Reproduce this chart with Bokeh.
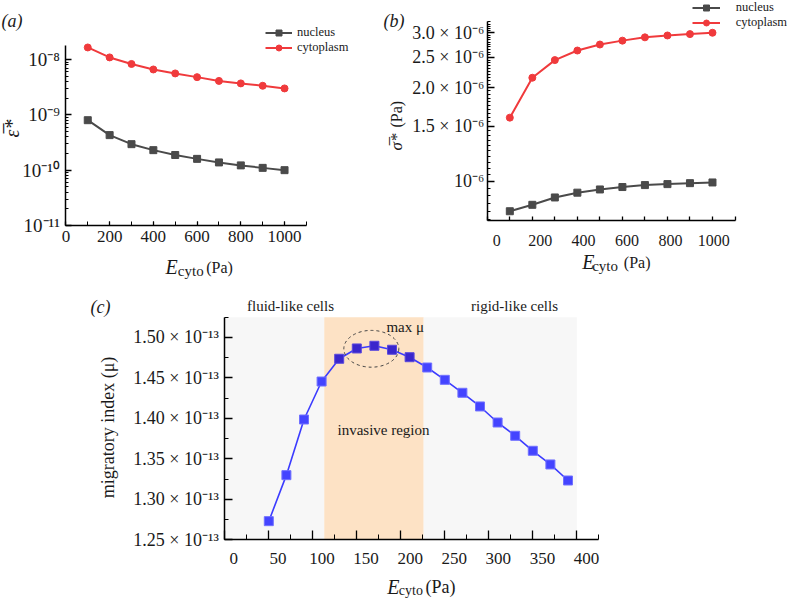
import numpy as np
from bokeh.plotting import figure
from bokeh.models import (Range1d, LinearAxis, LogAxis, LogScale, FixedTicker, SingleIntervalTicker,
                          CustomJSTickFormatter, Legend, LegendItem, Label, BoxAnnotation)
from bokeh.embed import file_html
from bokeh.resources import INLINE

SERIF = "Liberation Serif"

# ---------------- data ----------------
SERIES_LABELS = ["nucleus", "cytoplasm"]

# panel (a): mean strain vs E_cyto
A_E = [100, 200, 300, 400, 500, 600, 700, 800, 900, 1000]
A_NUC = [8.0e-10, 4.3e-10, 2.95e-10, 2.3e-10, 1.88e-10, 1.6e-10, 1.38e-10, 1.22e-10, 1.1e-10, 1.0e-10]
A_CYT = [1.65e-8, 1.09e-8, 8.3e-9, 6.6e-9, 5.6e-9, 4.8e-9, 4.1e-9, 3.7e-9, 3.35e-9, 3.0e-9]
A_YTICKS = [1e-11, 1e-10, 1e-9, 1e-8]
A_XLIM = (0, 1100)
A_YLIM = (1e-11, 1.79e-8)

# panel (b): mean stress vs E_cyto
B_E = [100, 200, 300, 400, 500, 600, 700, 800, 900, 1000]
B_NUC = [8.0e-7, 8.39e-7, 8.86e-7, 9.18e-7, 9.40e-7, 9.57e-7, 9.71e-7, 9.78e-7, 9.85e-7, 9.90e-7]
B_CYT = [1.60e-6, 2.15e-6, 2.45e-6, 2.63e-6, 2.75e-6, 2.83e-6, 2.90e-6, 2.94e-6, 2.97e-6, 3.00e-6]
B_YTICKS = [1.0e-6, 1.5e-6, 2.0e-6, 2.5e-6, 3.0e-6]
B_XLIM = (0, 1100)
B_XLABELS = (0, 1000)
B_YLIM = (7.47e-7, 3.268e-6)

# panel (c): migratory index vs E_cyto
C_E = [50, 70, 90, 110, 130, 150, 170, 190, 210, 230, 250, 270, 290, 310, 330, 350, 370, 390]
C_MU = [1.2730e-13, 1.3298e-13, 1.3985e-13, 1.4454e-13, 1.4735e-13, 1.4862e-13, 1.4895e-13,
        1.4846e-13, 1.4754e-13, 1.4627e-13, 1.4475e-13, 1.4315e-13, 1.4146e-13, 1.3948e-13,
        1.3784e-13, 1.3599e-13, 1.3430e-13, 1.3232e-13]
C_YTICKS = [1.25e-13, 1.30e-13, 1.35e-13, 1.40e-13, 1.45e-13, 1.50e-13]
C_YMINOR = [1.275e-13, 1.325e-13, 1.375e-13, 1.425e-13, 1.475e-13, 1.525e-13]
C_XLIM = (0, 425)
C_XLABELS = (0, 400)
C_YLIM = (1.25e-13, 1.5248e-13)
C_REGION_EDGES = [0, 113, 226, 400]
C_REGION_NAMES = ["fluid-like cells", "invasive region", "rigid-like cells"]
C_MAX_TEXT = "max μ"
# dashed blob around the maximum (centre x, centre y, width, height)
C_BLOB = (166.5, 1.4858e-13, 62.5, 0.0454e-13)

# ---------------- styles ----------------
NUC_COLOR = "#4a4a4a"
CYT_COLOR = "#f03a3c"
BAND_COLORS = ["#f7f7f7", "#fde2c5", "#f7f7f7"]
MU_LINE = "#3b3bff"
MU_FILL_OUT = "#4444ff"
MU_FILL_IN = "#3a26cc"
TXT = "#1a1a1a"

W, H = 787, 599


# ---- pixel geometry of each panel's frame -> ranges over the whole canvas ----
def lin_x(d0, d1, p0, p1):
    k = (p1 - p0) / (d1 - d0)
    return Range1d(d0 - p0 / k, d0 + (W - p0) / k)


def lin_y(d0, d1, p0, p1):
    k = (p0 - p1) / (d1 - d0)
    return Range1d(d0 - (H - p0) / k, d1 + p1 / k)


def log_y(d0, d1, p0, p1):
    l0, l1 = np.log10(d0), np.log10(d1)
    k = (p0 - p1) / (l1 - l0)
    return Range1d(10 ** (l0 - (H - p0) / k), 10 ** (l1 + p1 / k))


p = figure(width=W, height=H, title=None, x_range=Range1d(0, W), y_range=Range1d(H, 0),
           x_axis_location=None, y_axis_location=None, output_backend="svg",
           toolbar_location=None, min_border=0)
p.outline_line_color = None
p.grid.visible = False

p.extra_x_ranges = {
    "ax": lin_x(A_XLIM[0], A_XLIM[1], 65.4, 305.9),
    "bx": lin_x(B_XLIM[0], B_XLIM[1], 486.8, 734.5),
    "bxl": lin_x(B_XLABELS[0], B_XLABELS[1], 496.3, 713.3),
    "cx": lin_x(C_XLIM[0], C_XLIM[1], 224.3, 598.3),
    "cxl": lin_x(C_XLABELS[0], C_XLABELS[1], 233.3, 586.0),
}
p.extra_y_ranges = {
    "ay": log_y(A_YLIM[0], A_YLIM[1], 225.0, 45.0),
    "by": log_y(B_YLIM[0], B_YLIM[1], 220.0, 20.7),
    "cy": lin_y(C_YLIM[0], C_YLIM[1], 539.3, 316.7),
}
p.extra_y_scales = {"ay": LogScale(), "by": LogScale()}


def sci_formatter(digits):
    code = """
    const sup = {"-":"\u207b","0":"\u2070","1":"\u00b9","2":"\u00b2","3":"\u00b3","4":"\u2074",
                 "5":"\u2075","6":"\u2076","7":"\u2077","8":"\u2078","9":"\u2079"};
    const e = Math.floor(Math.log10(tick) + 1e-9);
    const m = tick / Math.pow(10, e);
    const s = "10" + String(e).split("").map(c => sup[c]).join("");
    if (Math.abs(m - 1) < 1e-6) { return s; }
    return m.toFixed(DIG) + " \u00d7 " + s;
    """.replace("DIG", str(digits))
    return CustomJSTickFormatter(code=code)


def style_axis(ax, size, tin, tmin, standoff):
    ax.axis_line_color = "black"
    ax.axis_line_width = 1.5
    ax.major_tick_line_color = "black"
    ax.minor_tick_line_color = "black"
    ax.major_tick_line_width = 1.3
    ax.minor_tick_line_width = 1
    ax.major_tick_in = tin
    ax.major_tick_out = 0
    ax.minor_tick_in = tmin
    ax.minor_tick_out = 0
    ax.major_label_text_font = SERIF
    ax.major_label_text_font_size = size
    ax.major_label_text_color = TXT
    ax.major_label_standoff = standoff


def x_axis(xr, yr, loc, bounds, ticker, size, tin, tmin, standoff, labels=True):
    ax = LinearAxis(x_range_name=xr, y_range_name=yr, fixed_location=loc, bounds=bounds,
                    ticker=ticker)
    style_axis(ax, size, tin, tmin, standoff)
    if not labels:
        ax.formatter = CustomJSTickFormatter(code="return '';")
        ax.major_label_text_font_size = "1px"
    p.add_layout(ax, "below")


def label_only_axis(xr, yr, loc, bounds, interval, size, standoff):
    ax = LinearAxis(x_range_name=xr, y_range_name=yr, fixed_location=loc, bounds=bounds,
                    ticker=SingleIntervalTicker(interval=interval, num_minor_ticks=0))
    ax.axis_line_color = None
    ax.major_tick_line_color = None
    ax.minor_tick_line_color = None
    ax.major_label_text_font = SERIF
    ax.major_label_text_font_size = size
    ax.major_label_text_color = TXT
    ax.major_label_standoff = standoff
    p.add_layout(ax, "below")


def y_axis(kind, xr, yr, loc, bounds, ticker, formatter, size, tin, tmin, standoff):
    ax = kind(x_range_name=xr, y_range_name=yr, fixed_location=loc, bounds=bounds,
              ticker=ticker, formatter=formatter)
    style_axis(ax, size, tin, tmin, standoff)
    p.add_layout(ax, "left")


def add_text(x, y, text, size, style="normal", angle=0.0, align="left", baseline="alphabetic"):
    p.add_layout(Label(x=x, y=y, text=text, text_font=SERIF, text_font_size=size,
                       text_font_style=style, angle=angle, text_align=align,
                       text_baseline=baseline, text_color=TXT))


def add_ecyto_title(xs, y, sizes):
    add_text(xs[0], y, "E", sizes[0], style="italic")
    add_text(xs[1], y + 4, "cyto", sizes[1])
    add_text(xs[2], y, "(Pa)", sizes[2])


def make_legend(renderers, loc, glyph_w, standoff, item_h):
    items = [LegendItem(label=lab, renderers=r) for lab, r in zip(SERIES_LABELS, renderers)]
    leg = Legend(items=items, location=loc, orientation="vertical", padding=0, margin=0,
                 spacing=0, glyph_width=glyph_w, glyph_height=item_h, label_height=item_h,
                 label_standoff=standoff, label_text_font=SERIF, label_text_font_size="12.5px",
                 label_text_color=TXT, border_line_color=None, background_fill_alpha=0)
    p.add_layout(leg)


# ---------------- panel (a) ----------------
x_axis("ax", "ay", A_YLIM[0], A_XLIM, SingleIntervalTicker(interval=200, num_minor_ticks=2),
       "17px", 4, 4, 5)
a_minor = [m * t for t in A_YTICKS for m in range(2, 10) if m * t <= A_YLIM[1]]
y_axis(LogAxis, "ax", "ay", A_XLIM[0], A_YLIM,
       FixedTicker(ticks=A_YTICKS, minor_ticks=a_minor),
       sci_formatter(0), "19px", 6, 3, 6)

kw = dict(x_range_name="ax", y_range_name="ay")
a_nl = p.line(A_E, A_NUC, line_color=NUC_COLOR, line_width=2, **kw)
a_ns = p.scatter(A_E, A_NUC, marker="square", size=7, fill_color=NUC_COLOR, line_color=NUC_COLOR, **kw)
a_cl = p.line(A_E, A_CYT, line_color=CYT_COLOR, line_width=2, **kw)
a_cs = p.scatter(A_E, A_CYT, marker="circle", size=7, fill_color=CYT_COLOR, line_color=CYT_COLOR, **kw)
make_legend([[a_nl, a_ns], [a_cl, a_cs]], (265, H - 54.5), 27, 5, 15)

add_ecyto_title((165, 177.3, 205.7), 266.7, ("20px", "15px", "16px"))
add_text(11, 128, "\u03b5\u0305*", "20px", style="italic", angle=np.pi / 2,
         align="center", baseline="middle")
add_text(1, 20, "(a)", "18px", style="italic", baseline="middle")

# ---------------- panel (b) ----------------
x_axis("bx", "by", B_YLIM[0], B_XLIM, SingleIntervalTicker(interval=100, num_minor_ticks=0),
       "16px", 4, 0, 0, labels=False)
label_only_axis("bxl", "by", B_YLIM[0], B_XLABELS, 200, "16px", 8)
y_axis(LogAxis, "bx", "by", B_XLIM[0], B_YLIM,
       FixedTicker(ticks=B_YTICKS,
                   minor_ticks=[round(v, 2) * 1e-6 for v in np.arange(0.75, 3.30, 0.05)]),
       sci_formatter(1), "18px", 7, 3, 3)

kw = dict(x_range_name="bx", y_range_name="by")
b_nl = p.line(B_E, B_NUC, line_color=NUC_COLOR, line_width=2, **kw)
b_ns = p.scatter(B_E, B_NUC, marker="square", size=7, fill_color=NUC_COLOR, line_color=NUC_COLOR, **kw)
b_cl = p.line(B_E, B_CYT, line_color=CYT_COLOR, line_width=2, **kw)
b_cs = p.scatter(B_E, B_CYT, marker="circle", size=7, fill_color=CYT_COLOR, line_color=CYT_COLOR, **kw)
make_legend([[b_nl, b_ns], [b_cl, b_cs]], (691.7, H - 29.5), 28, 16, 15)

add_ecyto_title((581.7, 591.7, 623.3), 261.7, ("20px", "15px", "16px"))
add_text(396, 150, "\u03c3\u0305*", "17px", style="italic", angle=np.pi / 2,
         align="left", baseline="middle")
add_text(396, 127, "(Pa)", "16px", angle=np.pi / 2, align="left", baseline="middle")
add_text(383, 20, "(b)", "18px", style="italic", baseline="middle")

# ---------------- panel (c) ----------------
x_axis("cx", "cy", C_YLIM[0], C_XLIM, SingleIntervalTicker(interval=50, num_minor_ticks=2),
       "17px", 9, 5, 0, labels=False)
label_only_axis("cxl", "cy", C_YLIM[0], C_XLABELS, 50, "17px", 7)
y_axis(LinearAxis, "cx", "cy", C_XLIM[0], C_YLIM,
       FixedTicker(ticks=C_YTICKS, minor_ticks=C_YMINOR), sci_formatter(2), "18px", 8, 4, 6)

for i in range(3):
    p.add_layout(BoxAnnotation(left=C_REGION_EDGES[i], right=C_REGION_EDGES[i + 1],
                               bottom=C_YLIM[0], top=C_YLIM[1],
                               x_range_name="cx", y_range_name="cy",
                               fill_color=BAND_COLORS[i], fill_alpha=1.0, line_alpha=0,
                               level="underlay"))

kw = dict(x_range_name="cx", y_range_name="cy")
inside = [C_REGION_EDGES[1] <= x <= C_REGION_EDGES[2] for x in C_E]
fills = [MU_FILL_IN if f else MU_FILL_OUT for f in inside]
edges = ["#5a48dd" if f else "#7070ff" for f in inside]
p.line(C_E, C_MU, line_color=MU_LINE, line_width=1.6, **kw)
p.scatter(C_E, C_MU, marker="square", size=9, fill_color=fills, line_color=edges, line_width=1, **kw)
p.ellipse(x=[C_BLOB[0]], y=[C_BLOB[1]], width=C_BLOB[2], height=C_BLOB[3],
          fill_color=None, line_color="#444444", line_dash="3 3", line_width=1, **kw)

add_text(290, 305, C_REGION_NAMES[0], "15px", align="center", baseline="middle")
add_text(383, 429, C_REGION_NAMES[1], "15px", align="center", baseline="middle")
add_text(514, 305, C_REGION_NAMES[2], "15px", align="center", baseline="middle")
add_text(404.7, 326, C_MAX_TEXT, "15px", align="center", baseline="middle")

add_ecyto_title((386.7, 398.3, 425), 586.0, ("20px", "14px", "18px"))
add_text(107, 427, "migratory index (\u03bc)", "18px", angle=np.pi / 2,
         align="center", baseline="middle")
add_text(90, 306, "(c)", "18px", style="italic", baseline="middle")

open("out.html", "w").write(file_html(p, INLINE))
